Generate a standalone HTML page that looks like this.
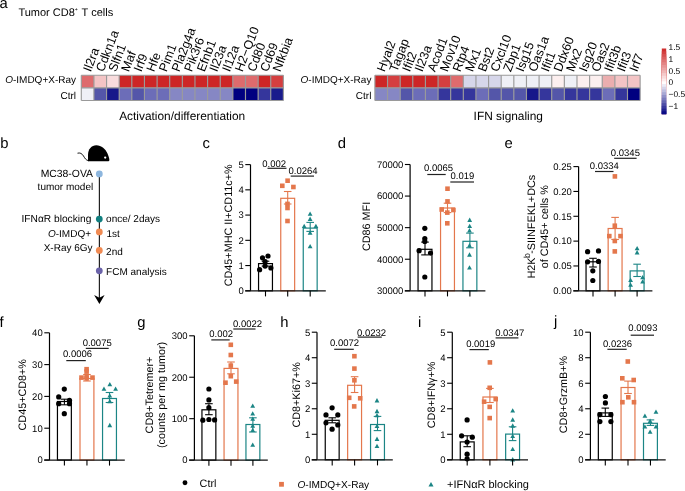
<!DOCTYPE html>
<html><head><meta charset="utf-8"><style>
html,body{margin:0;padding:0;background:#fff;overflow:hidden}
svg{display:block;will-change:transform}
text{font-family:"Liberation Sans", sans-serif;text-rendering:geometricPrecision;}
</style></head><body>
<svg width="685" height="491" viewBox="0 0 685 491">
<rect width="685" height="491" fill="#fff"/>
<text x="-0.60" y="7.70" font-size="14.8" text-anchor="start" fill="#000" >a</text>
<text x="18.40" y="15.60" font-size="11" text-anchor="start" fill="#000" >Tumor CD8<tspan font-size="5.2" dy="-4.3">+</tspan><tspan dy="4.3" dx="0.9"> T cells</tspan></text>
<rect x="81.30" y="75.25" width="12.63" height="12.62" fill="#DE6B6D"/>
<rect x="81.30" y="87.87" width="12.63" height="12.62" fill="#EFF0F6"/>
<rect x="93.93" y="75.25" width="12.63" height="12.62" fill="#F3C4C5"/>
<rect x="93.93" y="87.87" width="12.63" height="12.62" fill="#5456A9"/>
<rect x="106.56" y="75.25" width="12.63" height="12.62" fill="#F9DCDD"/>
<rect x="106.56" y="87.87" width="12.63" height="12.62" fill="#17188A"/>
<rect x="119.19" y="75.25" width="12.63" height="12.62" fill="#CD2626"/>
<rect x="119.19" y="87.87" width="12.63" height="12.62" fill="#6C6DB8"/>
<rect x="131.82" y="75.25" width="12.63" height="12.62" fill="#CD2626"/>
<rect x="131.82" y="87.87" width="12.63" height="12.62" fill="#5456A9"/>
<rect x="144.45" y="75.25" width="12.63" height="12.62" fill="#CD2626"/>
<rect x="144.45" y="87.87" width="12.63" height="12.62" fill="#6C6DB8"/>
<rect x="157.08" y="75.25" width="12.63" height="12.62" fill="#CD2626"/>
<rect x="157.08" y="87.87" width="12.63" height="12.62" fill="#6C6DB8"/>
<rect x="169.71" y="75.25" width="12.63" height="12.62" fill="#CD2626"/>
<rect x="169.71" y="87.87" width="12.63" height="12.62" fill="#8687C4"/>
<rect x="182.34" y="75.25" width="12.63" height="12.62" fill="#CD2626"/>
<rect x="182.34" y="87.87" width="12.63" height="12.62" fill="#8687C4"/>
<rect x="194.97" y="75.25" width="12.63" height="12.62" fill="#CD2626"/>
<rect x="194.97" y="87.87" width="12.63" height="12.62" fill="#8687C4"/>
<rect x="207.60" y="75.25" width="12.63" height="12.62" fill="#CD2626"/>
<rect x="207.60" y="87.87" width="12.63" height="12.62" fill="#8687C4"/>
<rect x="220.23" y="75.25" width="12.63" height="12.62" fill="#CD2626"/>
<rect x="220.23" y="87.87" width="12.63" height="12.62" fill="#8687C4"/>
<rect x="232.86" y="75.25" width="12.63" height="12.62" fill="#DE6B6D"/>
<rect x="232.86" y="87.87" width="12.63" height="12.62" fill="#000080"/>
<rect x="245.49" y="75.25" width="12.63" height="12.62" fill="#DE6B6D"/>
<rect x="245.49" y="87.87" width="12.63" height="12.62" fill="#000080"/>
<rect x="258.12" y="75.25" width="12.63" height="12.62" fill="#CD2626"/>
<rect x="258.12" y="87.87" width="12.63" height="12.62" fill="#35369C"/>
<rect x="270.75" y="75.25" width="12.63" height="12.62" fill="#D43F40"/>
<rect x="270.75" y="87.87" width="12.63" height="12.62" fill="#1A1B8C"/>
<line x1="81.30" y1="75.25" x2="81.30" y2="100.49" stroke="#9a9a9a" stroke-width="1.15"/>
<line x1="93.93" y1="75.25" x2="93.93" y2="100.49" stroke="#9a9a9a" stroke-width="1.15"/>
<line x1="106.56" y1="75.25" x2="106.56" y2="100.49" stroke="#9a9a9a" stroke-width="1.15"/>
<line x1="119.19" y1="75.25" x2="119.19" y2="100.49" stroke="#9a9a9a" stroke-width="1.15"/>
<line x1="131.82" y1="75.25" x2="131.82" y2="100.49" stroke="#9a9a9a" stroke-width="1.15"/>
<line x1="144.45" y1="75.25" x2="144.45" y2="100.49" stroke="#9a9a9a" stroke-width="1.15"/>
<line x1="157.08" y1="75.25" x2="157.08" y2="100.49" stroke="#9a9a9a" stroke-width="1.15"/>
<line x1="169.71" y1="75.25" x2="169.71" y2="100.49" stroke="#9a9a9a" stroke-width="1.15"/>
<line x1="182.34" y1="75.25" x2="182.34" y2="100.49" stroke="#9a9a9a" stroke-width="1.15"/>
<line x1="194.97" y1="75.25" x2="194.97" y2="100.49" stroke="#9a9a9a" stroke-width="1.15"/>
<line x1="207.60" y1="75.25" x2="207.60" y2="100.49" stroke="#9a9a9a" stroke-width="1.15"/>
<line x1="220.23" y1="75.25" x2="220.23" y2="100.49" stroke="#9a9a9a" stroke-width="1.15"/>
<line x1="232.86" y1="75.25" x2="232.86" y2="100.49" stroke="#9a9a9a" stroke-width="1.15"/>
<line x1="245.49" y1="75.25" x2="245.49" y2="100.49" stroke="#9a9a9a" stroke-width="1.15"/>
<line x1="258.12" y1="75.25" x2="258.12" y2="100.49" stroke="#9a9a9a" stroke-width="1.15"/>
<line x1="270.75" y1="75.25" x2="270.75" y2="100.49" stroke="#9a9a9a" stroke-width="1.15"/>
<line x1="283.38" y1="75.25" x2="283.38" y2="100.49" stroke="#9a9a9a" stroke-width="1.15"/>
<line x1="81.30" y1="75.25" x2="283.38" y2="75.25" stroke="#9a9a9a" stroke-width="1.15"/>
<line x1="81.30" y1="87.87" x2="283.38" y2="87.87" stroke="#9a9a9a" stroke-width="1.15"/>
<line x1="81.30" y1="100.49" x2="283.38" y2="100.49" stroke="#9a9a9a" stroke-width="1.15"/>
<text transform="translate(90.81,72.55) rotate(-69)" font-size="12.5">Il2ra</text>
<text transform="translate(103.45,72.55) rotate(-69)" font-size="12.5">Cdkn1a</text>
<text transform="translate(116.08,72.55) rotate(-69)" font-size="12.5">Slfn1</text>
<text transform="translate(128.70,72.55) rotate(-69)" font-size="12.5">Maf</text>
<text transform="translate(141.33,72.55) rotate(-69)" font-size="12.5">Irf9</text>
<text transform="translate(153.96,72.55) rotate(-69)" font-size="12.5">Hfe</text>
<text transform="translate(166.59,72.55) rotate(-69)" font-size="12.5">Pim1</text>
<text transform="translate(179.22,72.55) rotate(-69)" font-size="12.5">Pla2g4a</text>
<text transform="translate(191.85,72.55) rotate(-69)" font-size="12.5">Pik3r6</text>
<text transform="translate(204.49,72.55) rotate(-69)" font-size="12.5">Efnb1</text>
<text transform="translate(217.12,72.55) rotate(-69)" font-size="12.5">Il23a</text>
<text transform="translate(229.75,72.55) rotate(-69)" font-size="12.5">Il12a</text>
<text transform="translate(242.38,72.55) rotate(-69)" font-size="12.5">H2&#8722;Q10</text>
<text transform="translate(255.00,72.55) rotate(-69)" font-size="12.5">Cd80</text>
<text transform="translate(267.63,72.55) rotate(-69)" font-size="12.5">Cd69</text>
<text transform="translate(280.26,72.55) rotate(-69)" font-size="12.5">Nfkbia</text>
<rect x="374.90" y="75.25" width="12.63" height="12.62" fill="#CD2626"/>
<rect x="374.90" y="87.87" width="12.63" height="12.62" fill="#8687C4"/>
<rect x="387.53" y="75.25" width="12.63" height="12.62" fill="#D43F40"/>
<rect x="387.53" y="87.87" width="12.63" height="12.62" fill="#8687C4"/>
<rect x="400.16" y="75.25" width="12.63" height="12.62" fill="#CD2626"/>
<rect x="400.16" y="87.87" width="12.63" height="12.62" fill="#5456A9"/>
<rect x="412.79" y="75.25" width="12.63" height="12.62" fill="#CD2626"/>
<rect x="412.79" y="87.87" width="12.63" height="12.62" fill="#6C6DB8"/>
<rect x="425.42" y="75.25" width="12.63" height="12.62" fill="#CD2626"/>
<rect x="425.42" y="87.87" width="12.63" height="12.62" fill="#6C6DB8"/>
<rect x="438.05" y="75.25" width="12.63" height="12.62" fill="#D43F40"/>
<rect x="438.05" y="87.87" width="12.63" height="12.62" fill="#35369C"/>
<rect x="450.68" y="75.25" width="12.63" height="12.62" fill="#DE6B6D"/>
<rect x="450.68" y="87.87" width="12.63" height="12.62" fill="#35369C"/>
<rect x="463.31" y="75.25" width="12.63" height="12.62" fill="#D6D6EA"/>
<rect x="463.31" y="87.87" width="12.63" height="12.62" fill="#35369C"/>
<rect x="475.94" y="75.25" width="12.63" height="12.62" fill="#D6D6EA"/>
<rect x="475.94" y="87.87" width="12.63" height="12.62" fill="#6C6DB8"/>
<rect x="488.57" y="75.25" width="12.63" height="12.62" fill="#D6D6EA"/>
<rect x="488.57" y="87.87" width="12.63" height="12.62" fill="#5456A9"/>
<rect x="501.20" y="75.25" width="12.63" height="12.62" fill="#EFF0F6"/>
<rect x="501.20" y="87.87" width="12.63" height="12.62" fill="#5456A9"/>
<rect x="513.83" y="75.25" width="12.63" height="12.62" fill="#EFF0F6"/>
<rect x="513.83" y="87.87" width="12.63" height="12.62" fill="#5456A9"/>
<rect x="526.46" y="75.25" width="12.63" height="12.62" fill="#EFF0F6"/>
<rect x="526.46" y="87.87" width="12.63" height="12.62" fill="#17188A"/>
<rect x="539.09" y="75.25" width="12.63" height="12.62" fill="#EFF0F6"/>
<rect x="539.09" y="87.87" width="12.63" height="12.62" fill="#35369C"/>
<rect x="551.72" y="75.25" width="12.63" height="12.62" fill="#FCEFEF"/>
<rect x="551.72" y="87.87" width="12.63" height="12.62" fill="#5456A9"/>
<rect x="564.35" y="75.25" width="12.63" height="12.62" fill="#EFF0F6"/>
<rect x="564.35" y="87.87" width="12.63" height="12.62" fill="#35369C"/>
<rect x="576.98" y="75.25" width="12.63" height="12.62" fill="#FCEFEF"/>
<rect x="576.98" y="87.87" width="12.63" height="12.62" fill="#35369C"/>
<rect x="589.61" y="75.25" width="12.63" height="12.62" fill="#FCEFEF"/>
<rect x="589.61" y="87.87" width="12.63" height="12.62" fill="#35369C"/>
<rect x="602.24" y="75.25" width="12.63" height="12.62" fill="#EBAEAF"/>
<rect x="602.24" y="87.87" width="12.63" height="12.62" fill="#6C6DB8"/>
<rect x="614.87" y="75.25" width="12.63" height="12.62" fill="#F3C4C5"/>
<rect x="614.87" y="87.87" width="12.63" height="12.62" fill="#35369C"/>
<rect x="627.50" y="75.25" width="12.63" height="12.62" fill="#F3C4C5"/>
<rect x="627.50" y="87.87" width="12.63" height="12.62" fill="#000080"/>
<line x1="374.90" y1="75.25" x2="374.90" y2="100.49" stroke="#9a9a9a" stroke-width="1.15"/>
<line x1="387.53" y1="75.25" x2="387.53" y2="100.49" stroke="#9a9a9a" stroke-width="1.15"/>
<line x1="400.16" y1="75.25" x2="400.16" y2="100.49" stroke="#9a9a9a" stroke-width="1.15"/>
<line x1="412.79" y1="75.25" x2="412.79" y2="100.49" stroke="#9a9a9a" stroke-width="1.15"/>
<line x1="425.42" y1="75.25" x2="425.42" y2="100.49" stroke="#9a9a9a" stroke-width="1.15"/>
<line x1="438.05" y1="75.25" x2="438.05" y2="100.49" stroke="#9a9a9a" stroke-width="1.15"/>
<line x1="450.68" y1="75.25" x2="450.68" y2="100.49" stroke="#9a9a9a" stroke-width="1.15"/>
<line x1="463.31" y1="75.25" x2="463.31" y2="100.49" stroke="#9a9a9a" stroke-width="1.15"/>
<line x1="475.94" y1="75.25" x2="475.94" y2="100.49" stroke="#9a9a9a" stroke-width="1.15"/>
<line x1="488.57" y1="75.25" x2="488.57" y2="100.49" stroke="#9a9a9a" stroke-width="1.15"/>
<line x1="501.20" y1="75.25" x2="501.20" y2="100.49" stroke="#9a9a9a" stroke-width="1.15"/>
<line x1="513.83" y1="75.25" x2="513.83" y2="100.49" stroke="#9a9a9a" stroke-width="1.15"/>
<line x1="526.46" y1="75.25" x2="526.46" y2="100.49" stroke="#9a9a9a" stroke-width="1.15"/>
<line x1="539.09" y1="75.25" x2="539.09" y2="100.49" stroke="#9a9a9a" stroke-width="1.15"/>
<line x1="551.72" y1="75.25" x2="551.72" y2="100.49" stroke="#9a9a9a" stroke-width="1.15"/>
<line x1="564.35" y1="75.25" x2="564.35" y2="100.49" stroke="#9a9a9a" stroke-width="1.15"/>
<line x1="576.98" y1="75.25" x2="576.98" y2="100.49" stroke="#9a9a9a" stroke-width="1.15"/>
<line x1="589.61" y1="75.25" x2="589.61" y2="100.49" stroke="#9a9a9a" stroke-width="1.15"/>
<line x1="602.24" y1="75.25" x2="602.24" y2="100.49" stroke="#9a9a9a" stroke-width="1.15"/>
<line x1="614.87" y1="75.25" x2="614.87" y2="100.49" stroke="#9a9a9a" stroke-width="1.15"/>
<line x1="627.50" y1="75.25" x2="627.50" y2="100.49" stroke="#9a9a9a" stroke-width="1.15"/>
<line x1="640.13" y1="75.25" x2="640.13" y2="100.49" stroke="#9a9a9a" stroke-width="1.15"/>
<line x1="374.90" y1="75.25" x2="640.13" y2="75.25" stroke="#9a9a9a" stroke-width="1.15"/>
<line x1="374.90" y1="87.87" x2="640.13" y2="87.87" stroke="#9a9a9a" stroke-width="1.15"/>
<line x1="374.90" y1="100.49" x2="640.13" y2="100.49" stroke="#9a9a9a" stroke-width="1.15"/>
<text transform="translate(384.41,72.55) rotate(-69)" font-size="12.5">Hyal2</text>
<text transform="translate(397.04,72.55) rotate(-69)" font-size="12.5">Tagap</text>
<text transform="translate(409.67,72.55) rotate(-69)" font-size="12.5">Ifit2</text>
<text transform="translate(422.30,72.55) rotate(-69)" font-size="12.5">Il23a</text>
<text transform="translate(434.93,72.55) rotate(-69)" font-size="12.5">Acod1</text>
<text transform="translate(447.56,72.55) rotate(-69)" font-size="12.5">Mov10</text>
<text transform="translate(460.19,72.55) rotate(-69)" font-size="12.5">Rtp4</text>
<text transform="translate(472.82,72.55) rotate(-69)" font-size="12.5">Mx1</text>
<text transform="translate(485.45,72.55) rotate(-69)" font-size="12.5">Bst2</text>
<text transform="translate(498.08,72.55) rotate(-69)" font-size="12.5">Cxcl10</text>
<text transform="translate(510.71,72.55) rotate(-69)" font-size="12.5">Zbp1</text>
<text transform="translate(523.35,72.55) rotate(-69)" font-size="12.5">Isg15</text>
<text transform="translate(535.98,72.55) rotate(-69)" font-size="12.5">Oas1a</text>
<text transform="translate(548.61,72.55) rotate(-69)" font-size="12.5">Ifit1</text>
<text transform="translate(561.24,72.55) rotate(-69)" font-size="12.5">Ddx60</text>
<text transform="translate(573.87,72.55) rotate(-69)" font-size="12.5">Mx2</text>
<text transform="translate(586.50,72.55) rotate(-69)" font-size="12.5">Isg20</text>
<text transform="translate(599.12,72.55) rotate(-69)" font-size="12.5">Oas2</text>
<text transform="translate(611.75,72.55) rotate(-69)" font-size="12.5">Ifit3b</text>
<text transform="translate(624.38,72.55) rotate(-69)" font-size="12.5">Ifit3</text>
<text transform="translate(637.02,72.55) rotate(-69)" font-size="12.5">Irf7</text>
<text x="76.00" y="82.70" font-size="10.0" text-anchor="end" fill="#000" ><tspan font-style="italic">O</tspan>-IMDQ+X-Ray</text>
<text x="76.00" y="99.30" font-size="10.0" text-anchor="end" fill="#000" >Ctrl</text>
<text x="371.40" y="82.90" font-size="10.0" text-anchor="end" fill="#000" ><tspan font-style="italic">O</tspan>-IMDQ+X-Ray</text>
<text x="371.40" y="99.10" font-size="10.0" text-anchor="end" fill="#000" >Ctrl</text>
<text x="182.20" y="119.80" font-size="11.9" text-anchor="middle" fill="#000" >Activation/differentiation</text>
<text x="508.30" y="119.80" font-size="11.9" text-anchor="middle" fill="#000" >IFN signaling</text>
<rect x="661.8" y="48.50" width="4.4" height="65.60" fill="rgb(207, 47, 47)"/>
<rect x="661.8" y="51.23" width="4.4" height="62.87" fill="rgb(211, 64, 64)"/>
<rect x="661.8" y="53.97" width="4.4" height="60.13" fill="rgb(215, 81, 81)"/>
<rect x="661.8" y="56.70" width="4.4" height="57.40" fill="rgb(219, 98, 98)"/>
<rect x="661.8" y="59.43" width="4.4" height="54.67" fill="rgb(223, 116, 116)"/>
<rect x="661.8" y="62.17" width="4.4" height="51.93" fill="rgb(227, 133, 133)"/>
<rect x="661.8" y="64.90" width="4.4" height="49.20" fill="rgb(231, 150, 150)"/>
<rect x="661.8" y="67.63" width="4.4" height="46.47" fill="rgb(235, 167, 167)"/>
<rect x="661.8" y="70.37" width="4.4" height="43.73" fill="rgb(239, 184, 184)"/>
<rect x="661.8" y="73.10" width="4.4" height="41.00" fill="rgb(243, 202, 202)"/>
<rect x="661.8" y="75.83" width="4.4" height="38.27" fill="rgb(247, 219, 219)"/>
<rect x="661.8" y="78.57" width="4.4" height="35.53" fill="rgb(251, 236, 236)"/>
<rect x="661.8" y="81.30" width="4.4" height="32.80" fill="rgb(255, 253, 253)"/>
<rect x="661.8" y="84.03" width="4.4" height="30.07" fill="rgb(235, 235, 245)"/>
<rect x="661.8" y="86.77" width="4.4" height="27.33" fill="rgb(213, 213, 234)"/>
<rect x="661.8" y="89.50" width="4.4" height="24.60" fill="rgb(190, 190, 223)"/>
<rect x="661.8" y="92.23" width="4.4" height="21.87" fill="rgb(168, 168, 212)"/>
<rect x="661.8" y="94.97" width="4.4" height="19.13" fill="rgb(145, 145, 200)"/>
<rect x="661.8" y="97.70" width="4.4" height="16.40" fill="rgb(123, 123, 189)"/>
<rect x="661.8" y="100.43" width="4.4" height="13.67" fill="rgb(101, 101, 178)"/>
<rect x="661.8" y="103.17" width="4.4" height="10.93" fill="rgb(78, 78, 167)"/>
<rect x="661.8" y="105.90" width="4.4" height="8.20" fill="rgb(56, 56, 156)"/>
<rect x="661.8" y="108.63" width="4.4" height="5.47" fill="rgb(34, 34, 145)"/>
<rect x="661.8" y="111.37" width="4.4" height="2.73" fill="rgb(11, 11, 134)"/>
<text x="668.50" y="50.20" font-size="8.4" text-anchor="start" fill="#000" >1.5</text>
<text x="668.50" y="61.60" font-size="8.4" text-anchor="start" fill="#000" >1</text>
<text x="668.50" y="73.60" font-size="8.4" text-anchor="start" fill="#000" >0.5</text>
<text x="668.50" y="85.40" font-size="8.4" text-anchor="start" fill="#000" >0</text>
<text x="668.50" y="97.30" font-size="8.4" text-anchor="start" fill="#000" >&#8722;0.5</text>
<text x="668.50" y="108.90" font-size="8.4" text-anchor="start" fill="#000" >&#8722;1</text>
<text x="0.20" y="147.70" font-size="14.8" text-anchor="start" fill="#000" >b</text>
<path d="M88,161.2 L88,155 C88,149 91.5,145.2 96.3,145.2 C101.5,145.2 105.5,149 107.5,153.5 C109,157 109.6,159.5 109.3,160.5 C109,161.3 108,161.3 107,161.3 Z" fill="#000"/>
<circle cx="105.2" cy="157.6" r="1.15" fill="#fff"/>
<path d="M77.5,153.2 C80,152.5 82,153.5 83.5,156 C85,158.5 86,160.2 88.5,160.7" fill="none" stroke="#000" stroke-width="0.9"/>
<line x1="99.40" y1="174.00" x2="99.40" y2="298.00" stroke="#222" stroke-width="1.2"/>
<path d="M94.1,295 L99.4,297.8 L104.6,295 L99.4,304 Z" fill="#000"/>
<circle cx="99.3" cy="173.9" r="3.4" fill="#8DB6DE"/>
<circle cx="99.3" cy="219.1" r="3.4" fill="#107F7F"/>
<circle cx="99.3" cy="231.9" r="3.4" fill="#F08A52"/>
<circle cx="99.3" cy="250.4" r="3.4" fill="#F08A52"/>
<circle cx="99.3" cy="270.8" r="3.4" fill="#6B63A9"/>
<text x="93.00" y="176.90" font-size="10.4" text-anchor="end" fill="#000" >MC38-OVA</text>
<text x="93.20" y="189.60" font-size="10.0" text-anchor="end" fill="#000" >tumor model</text>
<text x="91.40" y="222.20" font-size="10.2" text-anchor="end" fill="#000" >IFN&#945;R blocking</text>
<text x="106.10" y="222.30" font-size="10.0" text-anchor="start" fill="#000" >once/ 2days</text>
<text x="91.00" y="237.30" font-size="10.0" text-anchor="end" fill="#000" ><tspan font-style="italic">O</tspan>-IMDQ+</text>
<text x="106.40" y="237.00" font-size="10.0" text-anchor="start" fill="#000" >1st</text>
<text x="92.60" y="250.90" font-size="10.0" text-anchor="end" fill="#000" >X-Ray 6Gy</text>
<text x="106.10" y="254.50" font-size="10.0" text-anchor="start" fill="#000" >2nd</text>
<text x="106.10" y="274.50" font-size="10.0" text-anchor="start" fill="#000" >FCM analysis</text>
<text x="202.50" y="148.20" font-size="14.8" text-anchor="start" fill="#000" >c</text>
<rect x="258.55" y="263.60" width="13.9" height="27.20" fill="none" stroke="#000" stroke-width="1.2"/>
<rect x="280.75" y="198.30" width="13.9" height="92.50" fill="none" stroke="#E4774C" stroke-width="1.2"/>
<rect x="303.25" y="228.10" width="13.9" height="62.70" fill="none" stroke="#1B8585" stroke-width="1.2"/>
<circle cx="268.00" cy="256.00" r="2.6" fill="#000"/>
<circle cx="262.50" cy="257.80" r="2.6" fill="#000"/>
<circle cx="265.10" cy="261.50" r="2.6" fill="#000"/>
<circle cx="265.10" cy="266.10" r="2.6" fill="#000"/>
<circle cx="259.60" cy="269.70" r="2.6" fill="#000"/>
<circle cx="270.90" cy="267.90" r="2.6" fill="#000"/>
<rect x="285.30" y="178.40" width="4.6" height="4.6" fill="#E4774C"/>
<rect x="280.00" y="183.50" width="4.6" height="4.6" fill="#E4774C"/>
<rect x="291.10" y="184.70" width="4.6" height="4.6" fill="#E4774C"/>
<rect x="285.20" y="201.60" width="4.6" height="4.6" fill="#E4774C"/>
<rect x="285.20" y="205.70" width="4.6" height="4.6" fill="#E4774C"/>
<rect x="285.20" y="218.70" width="4.6" height="4.6" fill="#E4774C"/>
<path d="M310.10,211.51 L312.50,215.83 L307.70,215.83 Z" fill="#1B8585"/>
<path d="M310.10,216.61 L312.50,220.93 L307.70,220.93 Z" fill="#1B8585"/>
<path d="M304.20,223.71 L306.60,228.03 L301.80,228.03 Z" fill="#1B8585"/>
<path d="M315.90,223.71 L318.30,228.03 L313.50,228.03 Z" fill="#1B8585"/>
<path d="M310.10,230.31 L312.50,234.63 L307.70,234.63 Z" fill="#1B8585"/>
<path d="M310.10,244.01 L312.50,248.33 L307.70,248.33 Z" fill="#1B8585"/>
<line x1="265.50" y1="261.20" x2="265.50" y2="266.10" stroke="#000" stroke-width="1.1"/>
<line x1="261.70" y1="261.20" x2="269.30" y2="261.20" stroke="#000" stroke-width="1.1"/>
<line x1="261.70" y1="266.10" x2="269.30" y2="266.10" stroke="#000" stroke-width="1.1"/>
<line x1="287.70" y1="191.50" x2="287.70" y2="204.00" stroke="#E4774C" stroke-width="1.1"/>
<line x1="283.90" y1="191.50" x2="291.50" y2="191.50" stroke="#E4774C" stroke-width="1.1"/>
<line x1="283.90" y1="204.00" x2="291.50" y2="204.00" stroke="#E4774C" stroke-width="1.1"/>
<line x1="310.20" y1="222.40" x2="310.20" y2="231.40" stroke="#1B8585" stroke-width="1.1"/>
<line x1="306.40" y1="222.40" x2="314.00" y2="222.40" stroke="#1B8585" stroke-width="1.1"/>
<line x1="306.40" y1="231.40" x2="314.00" y2="231.40" stroke="#1B8585" stroke-width="1.1"/>
<line x1="250.50" y1="164.60" x2="250.50" y2="290.80" stroke="#000" stroke-width="1.2"/>
<line x1="245.20" y1="290.90" x2="325.80" y2="290.90" stroke="#111" stroke-width="1.3"/>
<line x1="245.30" y1="290.80" x2="250.50" y2="290.80" stroke="#000" stroke-width="1.1"/>
<text x="243.70" y="294.15" font-size="9.5" text-anchor="end" fill="#000" >0</text>
<line x1="245.30" y1="265.56" x2="250.50" y2="265.56" stroke="#000" stroke-width="1.1"/>
<text x="243.70" y="268.91" font-size="9.5" text-anchor="end" fill="#000" >1</text>
<line x1="245.30" y1="240.32" x2="250.50" y2="240.32" stroke="#000" stroke-width="1.1"/>
<text x="243.70" y="243.67" font-size="9.5" text-anchor="end" fill="#000" >2</text>
<line x1="245.30" y1="215.08" x2="250.50" y2="215.08" stroke="#000" stroke-width="1.1"/>
<text x="243.70" y="218.43" font-size="9.5" text-anchor="end" fill="#000" >3</text>
<line x1="245.30" y1="189.84" x2="250.50" y2="189.84" stroke="#000" stroke-width="1.1"/>
<text x="243.70" y="193.19" font-size="9.5" text-anchor="end" fill="#000" >4</text>
<line x1="245.30" y1="164.60" x2="250.50" y2="164.60" stroke="#000" stroke-width="1.1"/>
<text x="243.70" y="167.95" font-size="9.5" text-anchor="end" fill="#000" >5</text>
<line x1="265.50" y1="290.80" x2="265.50" y2="296.40" stroke="#000" stroke-width="1.1"/>
<line x1="287.70" y1="290.80" x2="287.70" y2="296.40" stroke="#000" stroke-width="1.1"/>
<line x1="310.20" y1="290.80" x2="310.20" y2="296.40" stroke="#000" stroke-width="1.1"/>
<text x="274.20" y="166.60" font-size="9.5" text-anchor="middle" fill="#000" >0.002</text>
<line x1="267.50" y1="168.30" x2="286.50" y2="168.30" stroke="#222" stroke-width="1.2"/>
<text x="303.00" y="173.50" font-size="9.5" text-anchor="middle" fill="#000" >0.0264</text>
<line x1="290.70" y1="176.10" x2="314.00" y2="176.10" stroke="#222" stroke-width="1.2"/>
<text transform="translate(232.30,225.30) rotate(-90)" font-size="10.8" text-anchor="middle">CD45+MHC II+CD11c+%</text>
<text x="337.80" y="148.10" font-size="14.8" text-anchor="start" fill="#000" >d</text>
<rect x="418.05" y="249.30" width="13.9" height="41.50" fill="none" stroke="#000" stroke-width="1.2"/>
<rect x="440.55" y="208.00" width="13.9" height="82.80" fill="none" stroke="#E4774C" stroke-width="1.2"/>
<rect x="462.95" y="241.30" width="13.9" height="49.50" fill="none" stroke="#1B8585" stroke-width="1.2"/>
<circle cx="424.80" cy="228.30" r="2.6" fill="#000"/>
<circle cx="424.80" cy="238.50" r="2.6" fill="#000"/>
<circle cx="424.80" cy="241.40" r="2.6" fill="#000"/>
<circle cx="419.10" cy="250.70" r="2.6" fill="#000"/>
<circle cx="430.50" cy="253.10" r="2.6" fill="#000"/>
<circle cx="424.80" cy="277.00" r="2.6" fill="#000"/>
<rect x="445.20" y="186.40" width="4.6" height="4.6" fill="#E4774C"/>
<rect x="445.20" y="199.10" width="4.6" height="4.6" fill="#E4774C"/>
<rect x="439.40" y="207.20" width="4.6" height="4.6" fill="#E4774C"/>
<rect x="451.10" y="207.70" width="4.6" height="4.6" fill="#E4774C"/>
<rect x="445.00" y="210.30" width="4.6" height="4.6" fill="#E4774C"/>
<rect x="445.00" y="221.00" width="4.6" height="4.6" fill="#E4774C"/>
<path d="M469.70,217.61 L472.10,221.93 L467.30,221.93 Z" fill="#1B8585"/>
<path d="M469.70,223.71 L472.10,228.03 L467.30,228.03 Z" fill="#1B8585"/>
<path d="M469.50,228.11 L471.90,232.43 L467.10,232.43 Z" fill="#1B8585"/>
<path d="M469.50,243.11 L471.90,247.43 L467.10,247.43 Z" fill="#1B8585"/>
<path d="M469.50,252.31 L471.90,256.63 L467.10,256.63 Z" fill="#1B8585"/>
<path d="M469.50,265.21 L471.90,269.53 L467.10,269.53 Z" fill="#1B8585"/>
<line x1="425.00" y1="242.10" x2="425.00" y2="254.90" stroke="#000" stroke-width="1.1"/>
<line x1="421.20" y1="242.10" x2="428.80" y2="242.10" stroke="#000" stroke-width="1.1"/>
<line x1="421.20" y1="254.90" x2="428.80" y2="254.90" stroke="#000" stroke-width="1.1"/>
<line x1="447.50" y1="203.20" x2="447.50" y2="212.60" stroke="#E4774C" stroke-width="1.1"/>
<line x1="443.70" y1="203.20" x2="451.30" y2="203.20" stroke="#E4774C" stroke-width="1.1"/>
<line x1="443.70" y1="212.60" x2="451.30" y2="212.60" stroke="#E4774C" stroke-width="1.1"/>
<line x1="469.90" y1="233.10" x2="469.90" y2="247.80" stroke="#1B8585" stroke-width="1.1"/>
<line x1="466.10" y1="233.10" x2="473.70" y2="233.10" stroke="#1B8585" stroke-width="1.1"/>
<line x1="466.10" y1="247.80" x2="473.70" y2="247.80" stroke="#1B8585" stroke-width="1.1"/>
<line x1="410.10" y1="164.50" x2="410.10" y2="290.80" stroke="#000" stroke-width="1.2"/>
<line x1="404.80" y1="290.90" x2="485.40" y2="290.90" stroke="#111" stroke-width="1.3"/>
<line x1="404.90" y1="290.80" x2="410.10" y2="290.80" stroke="#000" stroke-width="1.1"/>
<text x="403.30" y="294.15" font-size="9.5" text-anchor="end" fill="#000" >30000</text>
<line x1="404.90" y1="259.23" x2="410.10" y2="259.23" stroke="#000" stroke-width="1.1"/>
<text x="403.30" y="262.58" font-size="9.5" text-anchor="end" fill="#000" >40000</text>
<line x1="404.90" y1="227.65" x2="410.10" y2="227.65" stroke="#000" stroke-width="1.1"/>
<text x="403.30" y="231.00" font-size="9.5" text-anchor="end" fill="#000" >50000</text>
<line x1="404.90" y1="196.07" x2="410.10" y2="196.07" stroke="#000" stroke-width="1.1"/>
<text x="403.30" y="199.42" font-size="9.5" text-anchor="end" fill="#000" >60000</text>
<line x1="404.90" y1="164.50" x2="410.10" y2="164.50" stroke="#000" stroke-width="1.1"/>
<text x="403.30" y="167.85" font-size="9.5" text-anchor="end" fill="#000" >70000</text>
<line x1="425.00" y1="290.80" x2="425.00" y2="296.40" stroke="#000" stroke-width="1.1"/>
<line x1="447.50" y1="290.80" x2="447.50" y2="296.40" stroke="#000" stroke-width="1.1"/>
<line x1="469.90" y1="290.80" x2="469.90" y2="296.40" stroke="#000" stroke-width="1.1"/>
<text x="438.60" y="170.50" font-size="9.5" text-anchor="middle" fill="#000" >0.0065</text>
<line x1="427.30" y1="174.50" x2="445.70" y2="174.50" stroke="#222" stroke-width="1.2"/>
<text x="462.40" y="178.90" font-size="9.5" text-anchor="middle" fill="#000" >0.019</text>
<line x1="450.30" y1="182.00" x2="474.00" y2="182.00" stroke="#222" stroke-width="1.2"/>
<text transform="translate(370.20,226.40) rotate(-90)" font-size="10.8" text-anchor="middle">CD86 MFI</text>
<text x="504.50" y="148.20" font-size="14.8" text-anchor="start" fill="#000" >e</text>
<rect x="586.05" y="261.80" width="13.9" height="29.00" fill="none" stroke="#000" stroke-width="1.2"/>
<rect x="608.15" y="228.50" width="13.9" height="62.30" fill="none" stroke="#E4774C" stroke-width="1.2"/>
<rect x="630.15" y="270.90" width="13.9" height="19.90" fill="none" stroke="#1B8585" stroke-width="1.2"/>
<circle cx="587.60" cy="251.70" r="2.6" fill="#000"/>
<circle cx="598.50" cy="250.90" r="2.6" fill="#000"/>
<circle cx="587.60" cy="261.80" r="2.6" fill="#000"/>
<circle cx="598.50" cy="261.40" r="2.6" fill="#000"/>
<circle cx="592.80" cy="270.80" r="2.6" fill="#000"/>
<circle cx="592.80" cy="280.50" r="2.6" fill="#000"/>
<rect x="612.60" y="174.10" width="4.6" height="4.6" fill="#E4774C"/>
<rect x="612.50" y="223.40" width="4.6" height="4.6" fill="#E4774C"/>
<rect x="607.00" y="233.80" width="4.6" height="4.6" fill="#E4774C"/>
<rect x="618.20" y="233.80" width="4.6" height="4.6" fill="#E4774C"/>
<rect x="612.50" y="238.70" width="4.6" height="4.6" fill="#E4774C"/>
<rect x="612.50" y="249.10" width="4.6" height="4.6" fill="#E4774C"/>
<path d="M637.10,245.91 L639.50,250.23 L634.70,250.23 Z" fill="#1B8585"/>
<path d="M637.10,250.11 L639.50,254.43 L634.70,254.43 Z" fill="#1B8585"/>
<path d="M630.60,277.71 L633.00,282.03 L628.20,282.03 Z" fill="#1B8585"/>
<path d="M642.60,275.01 L645.00,279.33 L640.20,279.33 Z" fill="#1B8585"/>
<path d="M630.60,282.41 L633.00,286.73 L628.20,286.73 Z" fill="#1B8585"/>
<path d="M642.60,279.21 L645.00,283.53 L640.20,283.53 Z" fill="#1B8585"/>
<line x1="593.00" y1="258.30" x2="593.00" y2="267.00" stroke="#000" stroke-width="1.1"/>
<line x1="589.20" y1="258.30" x2="596.80" y2="258.30" stroke="#000" stroke-width="1.1"/>
<line x1="589.20" y1="267.00" x2="596.80" y2="267.00" stroke="#000" stroke-width="1.1"/>
<line x1="615.10" y1="217.40" x2="615.10" y2="239.50" stroke="#E4774C" stroke-width="1.1"/>
<line x1="611.30" y1="217.40" x2="618.90" y2="217.40" stroke="#E4774C" stroke-width="1.1"/>
<line x1="611.30" y1="239.50" x2="618.90" y2="239.50" stroke="#E4774C" stroke-width="1.1"/>
<line x1="637.10" y1="264.20" x2="637.10" y2="276.50" stroke="#1B8585" stroke-width="1.1"/>
<line x1="633.30" y1="264.20" x2="640.90" y2="264.20" stroke="#1B8585" stroke-width="1.1"/>
<line x1="633.30" y1="276.50" x2="640.90" y2="276.50" stroke="#1B8585" stroke-width="1.1"/>
<line x1="578.60" y1="166.60" x2="578.60" y2="290.80" stroke="#000" stroke-width="1.2"/>
<line x1="573.30" y1="290.90" x2="652.40" y2="290.90" stroke="#111" stroke-width="1.3"/>
<line x1="573.40" y1="290.80" x2="578.60" y2="290.80" stroke="#000" stroke-width="1.1"/>
<text x="571.80" y="294.15" font-size="9.5" text-anchor="end" fill="#000" >0.00</text>
<line x1="573.40" y1="265.96" x2="578.60" y2="265.96" stroke="#000" stroke-width="1.1"/>
<text x="571.80" y="269.31" font-size="9.5" text-anchor="end" fill="#000" >0.05</text>
<line x1="573.40" y1="241.12" x2="578.60" y2="241.12" stroke="#000" stroke-width="1.1"/>
<text x="571.80" y="244.47" font-size="9.5" text-anchor="end" fill="#000" >0.10</text>
<line x1="573.40" y1="216.28" x2="578.60" y2="216.28" stroke="#000" stroke-width="1.1"/>
<text x="571.80" y="219.63" font-size="9.5" text-anchor="end" fill="#000" >0.15</text>
<line x1="573.40" y1="191.44" x2="578.60" y2="191.44" stroke="#000" stroke-width="1.1"/>
<text x="571.80" y="194.79" font-size="9.5" text-anchor="end" fill="#000" >0.20</text>
<line x1="573.40" y1="166.60" x2="578.60" y2="166.60" stroke="#000" stroke-width="1.1"/>
<text x="571.80" y="169.95" font-size="9.5" text-anchor="end" fill="#000" >0.25</text>
<line x1="593.00" y1="290.80" x2="593.00" y2="296.40" stroke="#000" stroke-width="1.1"/>
<line x1="615.10" y1="290.80" x2="615.10" y2="296.40" stroke="#000" stroke-width="1.1"/>
<line x1="637.10" y1="290.80" x2="637.10" y2="296.40" stroke="#000" stroke-width="1.1"/>
<text x="625.40" y="155.70" font-size="9.5" text-anchor="middle" fill="#000" >0.0345</text>
<line x1="614.20" y1="158.30" x2="636.60" y2="158.30" stroke="#222" stroke-width="1.2"/>
<text x="604.30" y="169.20" font-size="9.5" text-anchor="middle" fill="#000" >0.0334</text>
<line x1="595.00" y1="171.50" x2="613.50" y2="171.50" stroke="#222" stroke-width="1.2"/>
<text transform="translate(534.60,226.70) rotate(-90)" font-size="10.8" text-anchor="middle">H2K<tspan font-size="8.8" dy="-4.6" dx="-0.4">b</tspan><tspan dy="4.6" dx="-0.7">-SIINFEKL+DCs</tspan></text>
<text transform="translate(548.00,226.70) rotate(-90)" font-size="10.8" text-anchor="middle">of CD45+ cells %</text>
<text x="-0.40" y="326.90" font-size="14.8" text-anchor="start" fill="#000" >f</text>
<rect x="57.45" y="401.50" width="13.9" height="58.50" fill="none" stroke="#000" stroke-width="1.2"/>
<rect x="80.00" y="378.50" width="13.9" height="81.50" fill="none" stroke="#E4774C" stroke-width="1.2"/>
<rect x="102.55" y="398.50" width="13.9" height="61.50" fill="none" stroke="#1B8585" stroke-width="1.2"/>
<circle cx="64.30" cy="389.10" r="2.6" fill="#000"/>
<circle cx="58.70" cy="396.90" r="2.6" fill="#000"/>
<circle cx="69.50" cy="400.30" r="2.6" fill="#000"/>
<circle cx="58.70" cy="403.70" r="2.6" fill="#000"/>
<circle cx="69.50" cy="403.70" r="2.6" fill="#000"/>
<circle cx="64.30" cy="413.70" r="2.6" fill="#000"/>
<rect x="84.30" y="366.90" width="4.6" height="4.6" fill="#E4774C"/>
<rect x="84.30" y="369.30" width="4.6" height="4.6" fill="#E4774C"/>
<rect x="79.20" y="375.30" width="4.6" height="4.6" fill="#E4774C"/>
<rect x="90.20" y="375.30" width="4.6" height="4.6" fill="#E4774C"/>
<rect x="84.30" y="373.90" width="4.6" height="4.6" fill="#E4774C"/>
<rect x="84.30" y="376.10" width="4.6" height="4.6" fill="#E4774C"/>
<path d="M109.80,382.01 L112.20,386.33 L107.40,386.33 Z" fill="#1B8585"/>
<path d="M104.00,386.51 L106.40,390.83 L101.60,390.83 Z" fill="#1B8585"/>
<path d="M115.60,386.51 L118.00,390.83 L113.20,390.83 Z" fill="#1B8585"/>
<path d="M109.80,393.21 L112.20,397.53 L107.40,397.53 Z" fill="#1B8585"/>
<path d="M109.80,398.81 L112.20,403.13 L107.40,403.13 Z" fill="#1B8585"/>
<path d="M109.80,422.81 L112.20,427.13 L107.40,427.13 Z" fill="#1B8585"/>
<line x1="64.40" y1="399.20" x2="64.40" y2="404.80" stroke="#000" stroke-width="1.1"/>
<line x1="60.60" y1="399.20" x2="68.20" y2="399.20" stroke="#000" stroke-width="1.1"/>
<line x1="60.60" y1="404.80" x2="68.20" y2="404.80" stroke="#000" stroke-width="1.1"/>
<line x1="86.95" y1="374.50" x2="86.95" y2="381.00" stroke="#E4774C" stroke-width="1.1"/>
<line x1="83.15" y1="374.50" x2="90.75" y2="374.50" stroke="#E4774C" stroke-width="1.1"/>
<line x1="83.15" y1="381.00" x2="90.75" y2="381.00" stroke="#E4774C" stroke-width="1.1"/>
<line x1="109.50" y1="392.50" x2="109.50" y2="402.50" stroke="#1B8585" stroke-width="1.1"/>
<line x1="105.70" y1="392.50" x2="113.30" y2="392.50" stroke="#1B8585" stroke-width="1.1"/>
<line x1="105.70" y1="402.50" x2="113.30" y2="402.50" stroke="#1B8585" stroke-width="1.1"/>
<line x1="49.50" y1="332.80" x2="49.50" y2="460.00" stroke="#000" stroke-width="1.2"/>
<line x1="44.20" y1="460.10" x2="124.80" y2="460.10" stroke="#111" stroke-width="1.3"/>
<line x1="44.30" y1="460.00" x2="49.50" y2="460.00" stroke="#000" stroke-width="1.1"/>
<text x="42.70" y="463.35" font-size="9.5" text-anchor="end" fill="#000" >0</text>
<line x1="44.30" y1="428.20" x2="49.50" y2="428.20" stroke="#000" stroke-width="1.1"/>
<text x="42.70" y="431.55" font-size="9.5" text-anchor="end" fill="#000" >10</text>
<line x1="44.30" y1="396.40" x2="49.50" y2="396.40" stroke="#000" stroke-width="1.1"/>
<text x="42.70" y="399.75" font-size="9.5" text-anchor="end" fill="#000" >20</text>
<line x1="44.30" y1="364.60" x2="49.50" y2="364.60" stroke="#000" stroke-width="1.1"/>
<text x="42.70" y="367.95" font-size="9.5" text-anchor="end" fill="#000" >30</text>
<line x1="44.30" y1="332.80" x2="49.50" y2="332.80" stroke="#000" stroke-width="1.1"/>
<text x="42.70" y="336.15" font-size="9.5" text-anchor="end" fill="#000" >40</text>
<line x1="64.40" y1="460.00" x2="64.40" y2="465.60" stroke="#000" stroke-width="1.1"/>
<line x1="86.95" y1="460.00" x2="86.95" y2="465.60" stroke="#000" stroke-width="1.1"/>
<line x1="109.50" y1="460.00" x2="109.50" y2="465.60" stroke="#000" stroke-width="1.1"/>
<text x="97.20" y="346.00" font-size="9.5" text-anchor="middle" fill="#000" >0.0075</text>
<line x1="85.80" y1="348.40" x2="108.70" y2="348.40" stroke="#222" stroke-width="1.2"/>
<text x="77.50" y="357.40" font-size="9.5" text-anchor="middle" fill="#000" >0.0006</text>
<line x1="66.30" y1="360.60" x2="85.80" y2="360.60" stroke="#222" stroke-width="1.2"/>
<text transform="translate(26.00,394.75) rotate(-90)" font-size="10.8" text-anchor="middle">CD45+CD8+%</text>
<text x="137.30" y="326.80" font-size="14.8" text-anchor="start" fill="#000" >g</text>
<rect x="201.95" y="409.80" width="13.9" height="50.30" fill="none" stroke="#000" stroke-width="1.2"/>
<rect x="224.05" y="368.40" width="13.9" height="91.70" fill="none" stroke="#E4774C" stroke-width="1.2"/>
<rect x="245.95" y="424.50" width="13.9" height="35.60" fill="none" stroke="#1B8585" stroke-width="1.2"/>
<circle cx="208.90" cy="389.00" r="2.6" fill="#000"/>
<circle cx="208.90" cy="399.90" r="2.6" fill="#000"/>
<circle cx="208.90" cy="407.70" r="2.6" fill="#000"/>
<circle cx="202.80" cy="420.20" r="2.6" fill="#000"/>
<circle cx="208.90" cy="419.50" r="2.6" fill="#000"/>
<circle cx="214.60" cy="419.90" r="2.6" fill="#000"/>
<rect x="228.50" y="342.50" width="4.6" height="4.6" fill="#E4774C"/>
<rect x="228.50" y="352.70" width="4.6" height="4.6" fill="#E4774C"/>
<rect x="228.50" y="363.30" width="4.6" height="4.6" fill="#E4774C"/>
<rect x="228.50" y="373.90" width="4.6" height="4.6" fill="#E4774C"/>
<rect x="223.20" y="380.40" width="4.6" height="4.6" fill="#E4774C"/>
<rect x="233.90" y="379.30" width="4.6" height="4.6" fill="#E4774C"/>
<path d="M252.70,403.41 L255.10,407.73 L250.30,407.73 Z" fill="#1B8585"/>
<path d="M252.70,411.21 L255.10,415.53 L250.30,415.53 Z" fill="#1B8585"/>
<path d="M252.70,416.41 L255.10,420.73 L250.30,420.73 Z" fill="#1B8585"/>
<path d="M252.70,423.31 L255.10,427.63 L250.30,427.63 Z" fill="#1B8585"/>
<path d="M252.70,427.71 L255.10,432.03 L250.30,432.03 Z" fill="#1B8585"/>
<path d="M252.70,442.41 L255.10,446.73 L250.30,446.73 Z" fill="#1B8585"/>
<line x1="208.90" y1="403.70" x2="208.90" y2="414.70" stroke="#000" stroke-width="1.1"/>
<line x1="205.10" y1="403.70" x2="212.70" y2="403.70" stroke="#000" stroke-width="1.1"/>
<line x1="205.10" y1="414.70" x2="212.70" y2="414.70" stroke="#000" stroke-width="1.1"/>
<line x1="231.00" y1="362.00" x2="231.00" y2="373.80" stroke="#E4774C" stroke-width="1.1"/>
<line x1="227.20" y1="362.00" x2="234.80" y2="362.00" stroke="#E4774C" stroke-width="1.1"/>
<line x1="227.20" y1="373.80" x2="234.80" y2="373.80" stroke="#E4774C" stroke-width="1.1"/>
<line x1="252.90" y1="417.80" x2="252.90" y2="432.00" stroke="#1B8585" stroke-width="1.1"/>
<line x1="249.10" y1="417.80" x2="256.70" y2="417.80" stroke="#1B8585" stroke-width="1.1"/>
<line x1="249.10" y1="432.00" x2="256.70" y2="432.00" stroke="#1B8585" stroke-width="1.1"/>
<line x1="194.40" y1="335.80" x2="194.40" y2="460.10" stroke="#000" stroke-width="1.2"/>
<line x1="189.10" y1="460.20" x2="267.80" y2="460.20" stroke="#111" stroke-width="1.3"/>
<line x1="189.20" y1="460.10" x2="194.40" y2="460.10" stroke="#000" stroke-width="1.1"/>
<text x="187.60" y="463.45" font-size="9.5" text-anchor="end" fill="#000" >0</text>
<line x1="189.20" y1="418.67" x2="194.40" y2="418.67" stroke="#000" stroke-width="1.1"/>
<text x="187.60" y="422.02" font-size="9.5" text-anchor="end" fill="#000" >100</text>
<line x1="189.20" y1="377.23" x2="194.40" y2="377.23" stroke="#000" stroke-width="1.1"/>
<text x="187.60" y="380.58" font-size="9.5" text-anchor="end" fill="#000" >200</text>
<line x1="189.20" y1="335.80" x2="194.40" y2="335.80" stroke="#000" stroke-width="1.1"/>
<text x="187.60" y="339.15" font-size="9.5" text-anchor="end" fill="#000" >300</text>
<line x1="208.90" y1="460.10" x2="208.90" y2="465.70" stroke="#000" stroke-width="1.1"/>
<line x1="231.00" y1="460.10" x2="231.00" y2="465.70" stroke="#000" stroke-width="1.1"/>
<line x1="252.90" y1="460.10" x2="252.90" y2="465.70" stroke="#000" stroke-width="1.1"/>
<text x="247.50" y="326.80" font-size="9.5" text-anchor="middle" fill="#000" >0.0022</text>
<line x1="233.30" y1="329.00" x2="255.60" y2="329.00" stroke="#222" stroke-width="1.2"/>
<text x="221.20" y="337.10" font-size="9.5" text-anchor="middle" fill="#000" >0.002</text>
<line x1="211.30" y1="339.90" x2="229.70" y2="339.90" stroke="#222" stroke-width="1.2"/>
<text transform="translate(153.10,395.00) rotate(-90)" font-size="10.8" text-anchor="middle">CD8+Tetremer+</text>
<text transform="translate(165.30,395.00) rotate(-90)" font-size="10.8" text-anchor="middle">(counts per mg tumor)</text>
<text x="280.20" y="326.90" font-size="14.8" text-anchor="start" fill="#000" >h</text>
<rect x="325.25" y="420.30" width="13.9" height="39.50" fill="none" stroke="#000" stroke-width="1.2"/>
<rect x="347.65" y="385.30" width="13.9" height="74.50" fill="none" stroke="#E4774C" stroke-width="1.2"/>
<rect x="370.55" y="424.50" width="13.9" height="35.30" fill="none" stroke="#1B8585" stroke-width="1.2"/>
<circle cx="332.10" cy="407.80" r="2.6" fill="#000"/>
<circle cx="326.00" cy="414.90" r="2.6" fill="#000"/>
<circle cx="337.80" cy="414.90" r="2.6" fill="#000"/>
<circle cx="326.00" cy="422.80" r="2.6" fill="#000"/>
<circle cx="337.80" cy="424.90" r="2.6" fill="#000"/>
<circle cx="332.10" cy="429.20" r="2.6" fill="#000"/>
<rect x="352.10" y="353.90" width="4.6" height="4.6" fill="#E4774C"/>
<rect x="352.10" y="366.30" width="4.6" height="4.6" fill="#E4774C"/>
<rect x="352.10" y="378.00" width="4.6" height="4.6" fill="#E4774C"/>
<rect x="346.90" y="395.50" width="4.6" height="4.6" fill="#E4774C"/>
<rect x="357.90" y="396.00" width="4.6" height="4.6" fill="#E4774C"/>
<rect x="351.90" y="404.10" width="4.6" height="4.6" fill="#E4774C"/>
<path d="M377.00,398.11 L379.40,402.43 L374.60,402.43 Z" fill="#1B8585"/>
<path d="M377.00,408.81 L379.40,413.13 L374.60,413.13 Z" fill="#1B8585"/>
<path d="M377.00,413.01 L379.40,417.33 L374.60,417.33 Z" fill="#1B8585"/>
<path d="M377.00,423.71 L379.40,428.03 L374.60,428.03 Z" fill="#1B8585"/>
<path d="M377.00,436.61 L379.40,440.93 L374.60,440.93 Z" fill="#1B8585"/>
<path d="M377.00,443.71 L379.40,448.03 L374.60,448.03 Z" fill="#1B8585"/>
<line x1="332.20" y1="417.80" x2="332.20" y2="422.80" stroke="#000" stroke-width="1.1"/>
<line x1="328.40" y1="417.80" x2="336.00" y2="417.80" stroke="#000" stroke-width="1.1"/>
<line x1="328.40" y1="422.80" x2="336.00" y2="422.80" stroke="#000" stroke-width="1.1"/>
<line x1="354.60" y1="376.70" x2="354.60" y2="392.50" stroke="#E4774C" stroke-width="1.1"/>
<line x1="350.80" y1="376.70" x2="358.40" y2="376.70" stroke="#E4774C" stroke-width="1.1"/>
<line x1="350.80" y1="392.50" x2="358.40" y2="392.50" stroke="#E4774C" stroke-width="1.1"/>
<line x1="377.50" y1="416.40" x2="377.50" y2="430.60" stroke="#1B8585" stroke-width="1.1"/>
<line x1="373.70" y1="416.40" x2="381.30" y2="416.40" stroke="#1B8585" stroke-width="1.1"/>
<line x1="373.70" y1="430.60" x2="381.30" y2="430.60" stroke="#1B8585" stroke-width="1.1"/>
<line x1="317.00" y1="332.20" x2="317.00" y2="459.80" stroke="#000" stroke-width="1.2"/>
<line x1="311.70" y1="459.90" x2="392.80" y2="459.90" stroke="#111" stroke-width="1.3"/>
<line x1="311.80" y1="459.80" x2="317.00" y2="459.80" stroke="#000" stroke-width="1.1"/>
<text x="310.20" y="463.15" font-size="9.5" text-anchor="end" fill="#000" >0</text>
<line x1="311.80" y1="434.28" x2="317.00" y2="434.28" stroke="#000" stroke-width="1.1"/>
<text x="310.20" y="437.63" font-size="9.5" text-anchor="end" fill="#000" >1</text>
<line x1="311.80" y1="408.76" x2="317.00" y2="408.76" stroke="#000" stroke-width="1.1"/>
<text x="310.20" y="412.11" font-size="9.5" text-anchor="end" fill="#000" >2</text>
<line x1="311.80" y1="383.24" x2="317.00" y2="383.24" stroke="#000" stroke-width="1.1"/>
<text x="310.20" y="386.59" font-size="9.5" text-anchor="end" fill="#000" >3</text>
<line x1="311.80" y1="357.72" x2="317.00" y2="357.72" stroke="#000" stroke-width="1.1"/>
<text x="310.20" y="361.07" font-size="9.5" text-anchor="end" fill="#000" >4</text>
<line x1="311.80" y1="332.20" x2="317.00" y2="332.20" stroke="#000" stroke-width="1.1"/>
<text x="310.20" y="335.55" font-size="9.5" text-anchor="end" fill="#000" >5</text>
<line x1="332.20" y1="459.80" x2="332.20" y2="465.40" stroke="#000" stroke-width="1.1"/>
<line x1="354.60" y1="459.80" x2="354.60" y2="465.40" stroke="#000" stroke-width="1.1"/>
<line x1="377.50" y1="459.80" x2="377.50" y2="465.40" stroke="#000" stroke-width="1.1"/>
<text x="371.60" y="335.50" font-size="9.5" text-anchor="middle" fill="#000" >0.0232</text>
<line x1="357.70" y1="337.10" x2="381.80" y2="337.10" stroke="#222" stroke-width="1.2"/>
<text x="344.50" y="346.10" font-size="9.5" text-anchor="middle" fill="#000" >0.0072</text>
<line x1="334.20" y1="349.30" x2="353.80" y2="349.30" stroke="#222" stroke-width="1.2"/>
<text transform="translate(299.70,394.90) rotate(-90)" font-size="10.8" text-anchor="middle">CD8+Ki67+%</text>
<text x="417.90" y="326.80" font-size="14.8" text-anchor="start" fill="#000" >i</text>
<rect x="460.25" y="441.90" width="13.9" height="17.90" fill="none" stroke="#000" stroke-width="1.2"/>
<rect x="482.95" y="397.00" width="13.9" height="62.80" fill="none" stroke="#E4774C" stroke-width="1.2"/>
<rect x="505.65" y="434.10" width="13.9" height="25.70" fill="none" stroke="#1B8585" stroke-width="1.2"/>
<circle cx="467.10" cy="419.90" r="2.6" fill="#000"/>
<circle cx="461.60" cy="435.80" r="2.6" fill="#000"/>
<circle cx="472.30" cy="437.20" r="2.6" fill="#000"/>
<circle cx="467.10" cy="442.00" r="2.6" fill="#000"/>
<circle cx="467.10" cy="454.20" r="2.6" fill="#000"/>
<circle cx="467.10" cy="458.80" r="2.6" fill="#000"/>
<rect x="487.60" y="360.10" width="4.6" height="4.6" fill="#E4774C"/>
<rect x="487.40" y="385.50" width="4.6" height="4.6" fill="#E4774C"/>
<rect x="481.80" y="399.40" width="4.6" height="4.6" fill="#E4774C"/>
<rect x="493.40" y="396.80" width="4.6" height="4.6" fill="#E4774C"/>
<rect x="487.40" y="404.60" width="4.6" height="4.6" fill="#E4774C"/>
<rect x="487.40" y="415.80" width="4.6" height="4.6" fill="#E4774C"/>
<path d="M512.70,408.21 L515.10,412.53 L510.30,412.53 Z" fill="#1B8585"/>
<path d="M512.70,417.31 L515.10,421.63 L510.30,421.63 Z" fill="#1B8585"/>
<path d="M512.70,423.31 L515.10,427.63 L510.30,427.63 Z" fill="#1B8585"/>
<path d="M512.70,433.71 L515.10,438.03 L510.30,438.03 Z" fill="#1B8585"/>
<path d="M512.70,446.71 L515.10,451.03 L510.30,451.03 Z" fill="#1B8585"/>
<path d="M512.70,457.11 L515.10,461.43 L510.30,461.43 Z" fill="#1B8585"/>
<line x1="467.20" y1="435.80" x2="467.20" y2="446.70" stroke="#000" stroke-width="1.1"/>
<line x1="463.40" y1="435.80" x2="471.00" y2="435.80" stroke="#000" stroke-width="1.1"/>
<line x1="463.40" y1="446.70" x2="471.00" y2="446.70" stroke="#000" stroke-width="1.1"/>
<line x1="489.90" y1="388.40" x2="489.90" y2="402.50" stroke="#E4774C" stroke-width="1.1"/>
<line x1="486.10" y1="388.40" x2="493.70" y2="388.40" stroke="#E4774C" stroke-width="1.1"/>
<line x1="486.10" y1="402.50" x2="493.70" y2="402.50" stroke="#E4774C" stroke-width="1.1"/>
<line x1="512.60" y1="426.80" x2="512.60" y2="440.60" stroke="#1B8585" stroke-width="1.1"/>
<line x1="508.80" y1="426.80" x2="516.40" y2="426.80" stroke="#1B8585" stroke-width="1.1"/>
<line x1="508.80" y1="440.60" x2="516.40" y2="440.60" stroke="#1B8585" stroke-width="1.1"/>
<line x1="452.30" y1="332.20" x2="452.30" y2="459.80" stroke="#000" stroke-width="1.2"/>
<line x1="447.00" y1="459.90" x2="528.00" y2="459.90" stroke="#111" stroke-width="1.3"/>
<line x1="447.10" y1="459.80" x2="452.30" y2="459.80" stroke="#000" stroke-width="1.1"/>
<text x="445.50" y="463.15" font-size="9.5" text-anchor="end" fill="#000" >0</text>
<line x1="447.10" y1="434.28" x2="452.30" y2="434.28" stroke="#000" stroke-width="1.1"/>
<text x="445.50" y="437.63" font-size="9.5" text-anchor="end" fill="#000" >1</text>
<line x1="447.10" y1="408.76" x2="452.30" y2="408.76" stroke="#000" stroke-width="1.1"/>
<text x="445.50" y="412.11" font-size="9.5" text-anchor="end" fill="#000" >2</text>
<line x1="447.10" y1="383.24" x2="452.30" y2="383.24" stroke="#000" stroke-width="1.1"/>
<text x="445.50" y="386.59" font-size="9.5" text-anchor="end" fill="#000" >3</text>
<line x1="447.10" y1="357.72" x2="452.30" y2="357.72" stroke="#000" stroke-width="1.1"/>
<text x="445.50" y="361.07" font-size="9.5" text-anchor="end" fill="#000" >4</text>
<line x1="447.10" y1="332.20" x2="452.30" y2="332.20" stroke="#000" stroke-width="1.1"/>
<text x="445.50" y="335.55" font-size="9.5" text-anchor="end" fill="#000" >5</text>
<line x1="467.20" y1="459.80" x2="467.20" y2="465.40" stroke="#000" stroke-width="1.1"/>
<line x1="489.90" y1="459.80" x2="489.90" y2="465.40" stroke="#000" stroke-width="1.1"/>
<line x1="512.60" y1="459.80" x2="512.60" y2="465.40" stroke="#000" stroke-width="1.1"/>
<text x="509.70" y="335.50" font-size="9.5" text-anchor="middle" fill="#000" >0.0347</text>
<line x1="495.60" y1="337.90" x2="518.40" y2="337.90" stroke="#222" stroke-width="1.2"/>
<text x="480.70" y="346.90" font-size="9.5" text-anchor="middle" fill="#000" >0.0019</text>
<line x1="469.50" y1="349.60" x2="488.80" y2="349.60" stroke="#222" stroke-width="1.2"/>
<text transform="translate(434.70,394.90) rotate(-90)" font-size="10.8" text-anchor="middle">CD8+IFN&#947;+%</text>
<text x="554.00" y="326.20" font-size="14.8" text-anchor="start" fill="#000" >j</text>
<rect x="598.35" y="412.90" width="13.9" height="46.90" fill="none" stroke="#000" stroke-width="1.2"/>
<rect x="621.05" y="387.50" width="13.9" height="72.30" fill="none" stroke="#E4774C" stroke-width="1.2"/>
<rect x="643.50" y="423.30" width="13.9" height="36.50" fill="none" stroke="#1B8585" stroke-width="1.2"/>
<circle cx="605.40" cy="396.50" r="2.6" fill="#000"/>
<circle cx="605.40" cy="402.90" r="2.6" fill="#000"/>
<circle cx="599.90" cy="414.70" r="2.6" fill="#000"/>
<circle cx="610.90" cy="414.70" r="2.6" fill="#000"/>
<circle cx="599.90" cy="421.60" r="2.6" fill="#000"/>
<circle cx="610.90" cy="421.60" r="2.6" fill="#000"/>
<rect x="625.50" y="359.20" width="4.6" height="4.6" fill="#E4774C"/>
<rect x="620.00" y="376.00" width="4.6" height="4.6" fill="#E4774C"/>
<rect x="631.40" y="377.70" width="4.6" height="4.6" fill="#E4774C"/>
<rect x="626.00" y="395.00" width="4.6" height="4.6" fill="#E4774C"/>
<rect x="620.10" y="399.90" width="4.6" height="4.6" fill="#E4774C"/>
<rect x="631.70" y="399.90" width="4.6" height="4.6" fill="#E4774C"/>
<path d="M644.90,413.41 L647.30,417.73 L642.50,417.73 Z" fill="#1B8585"/>
<path d="M656.00,409.51 L658.40,413.83 L653.60,413.83 Z" fill="#1B8585"/>
<path d="M650.10,418.61 L652.50,422.93 L647.70,422.93 Z" fill="#1B8585"/>
<path d="M644.90,424.21 L647.30,428.53 L642.50,428.53 Z" fill="#1B8585"/>
<path d="M656.00,424.21 L658.40,428.53 L653.60,428.53 Z" fill="#1B8585"/>
<path d="M650.10,429.41 L652.50,433.73 L647.70,433.73 Z" fill="#1B8585"/>
<line x1="605.30" y1="408.10" x2="605.30" y2="416.40" stroke="#000" stroke-width="1.1"/>
<line x1="601.50" y1="408.10" x2="609.10" y2="408.10" stroke="#000" stroke-width="1.1"/>
<line x1="601.50" y1="416.40" x2="609.10" y2="416.40" stroke="#000" stroke-width="1.1"/>
<line x1="628.00" y1="381.10" x2="628.00" y2="393.50" stroke="#E4774C" stroke-width="1.1"/>
<line x1="624.20" y1="381.10" x2="631.80" y2="381.10" stroke="#E4774C" stroke-width="1.1"/>
<line x1="624.20" y1="393.50" x2="631.80" y2="393.50" stroke="#E4774C" stroke-width="1.1"/>
<line x1="650.45" y1="419.90" x2="650.45" y2="425.40" stroke="#1B8585" stroke-width="1.1"/>
<line x1="646.65" y1="419.90" x2="654.25" y2="419.90" stroke="#1B8585" stroke-width="1.1"/>
<line x1="646.65" y1="425.40" x2="654.25" y2="425.40" stroke="#1B8585" stroke-width="1.1"/>
<line x1="590.40" y1="332.20" x2="590.40" y2="459.80" stroke="#000" stroke-width="1.2"/>
<line x1="585.10" y1="459.90" x2="665.70" y2="459.90" stroke="#111" stroke-width="1.3"/>
<line x1="585.20" y1="459.80" x2="590.40" y2="459.80" stroke="#000" stroke-width="1.1"/>
<text x="583.60" y="463.15" font-size="9.5" text-anchor="end" fill="#000" >0</text>
<line x1="585.20" y1="434.28" x2="590.40" y2="434.28" stroke="#000" stroke-width="1.1"/>
<text x="583.60" y="437.63" font-size="9.5" text-anchor="end" fill="#000" >2</text>
<line x1="585.20" y1="408.76" x2="590.40" y2="408.76" stroke="#000" stroke-width="1.1"/>
<text x="583.60" y="412.11" font-size="9.5" text-anchor="end" fill="#000" >4</text>
<line x1="585.20" y1="383.24" x2="590.40" y2="383.24" stroke="#000" stroke-width="1.1"/>
<text x="583.60" y="386.59" font-size="9.5" text-anchor="end" fill="#000" >6</text>
<line x1="585.20" y1="357.72" x2="590.40" y2="357.72" stroke="#000" stroke-width="1.1"/>
<text x="583.60" y="361.07" font-size="9.5" text-anchor="end" fill="#000" >8</text>
<line x1="585.20" y1="332.20" x2="590.40" y2="332.20" stroke="#000" stroke-width="1.1"/>
<text x="583.60" y="335.55" font-size="9.5" text-anchor="end" fill="#000" >10</text>
<line x1="605.30" y1="459.80" x2="605.30" y2="465.40" stroke="#000" stroke-width="1.1"/>
<line x1="628.00" y1="459.80" x2="628.00" y2="465.40" stroke="#000" stroke-width="1.1"/>
<line x1="650.45" y1="459.80" x2="650.45" y2="465.40" stroke="#000" stroke-width="1.1"/>
<text x="642.90" y="330.60" font-size="9.5" text-anchor="middle" fill="#000" >0.0093</text>
<line x1="630.70" y1="335.20" x2="654.00" y2="335.20" stroke="#222" stroke-width="1.2"/>
<text x="617.50" y="346.60" font-size="9.5" text-anchor="middle" fill="#000" >0.0236</text>
<line x1="607.40" y1="349.30" x2="626.70" y2="349.30" stroke="#222" stroke-width="1.2"/>
<text transform="translate(567.30,394.50) rotate(-90)" font-size="10.8" text-anchor="middle">CD8+GrzmB+%</text>
<circle cx="185.00" cy="482.80" r="2.45" fill="#000"/>
<text x="199.60" y="487.10" font-size="10.8" text-anchor="start" fill="#000" >Ctrl</text>
<rect x="279.10" y="481.90" width="4.8" height="4.8" fill="#E4774C"/>
<text x="297.40" y="488.10" font-size="10.15" text-anchor="start" fill="#000" ><tspan font-style="italic">O</tspan>-IMDQ+X-Ray</text>
<path d="M431.00,481.90 L433.50,486.40 L428.50,486.40 Z" fill="#1B8585"/>
<text x="447.00" y="488.30" font-size="11.0" text-anchor="start" fill="#000" >+IFN&#945;R blocking</text>
</svg></body></html>
